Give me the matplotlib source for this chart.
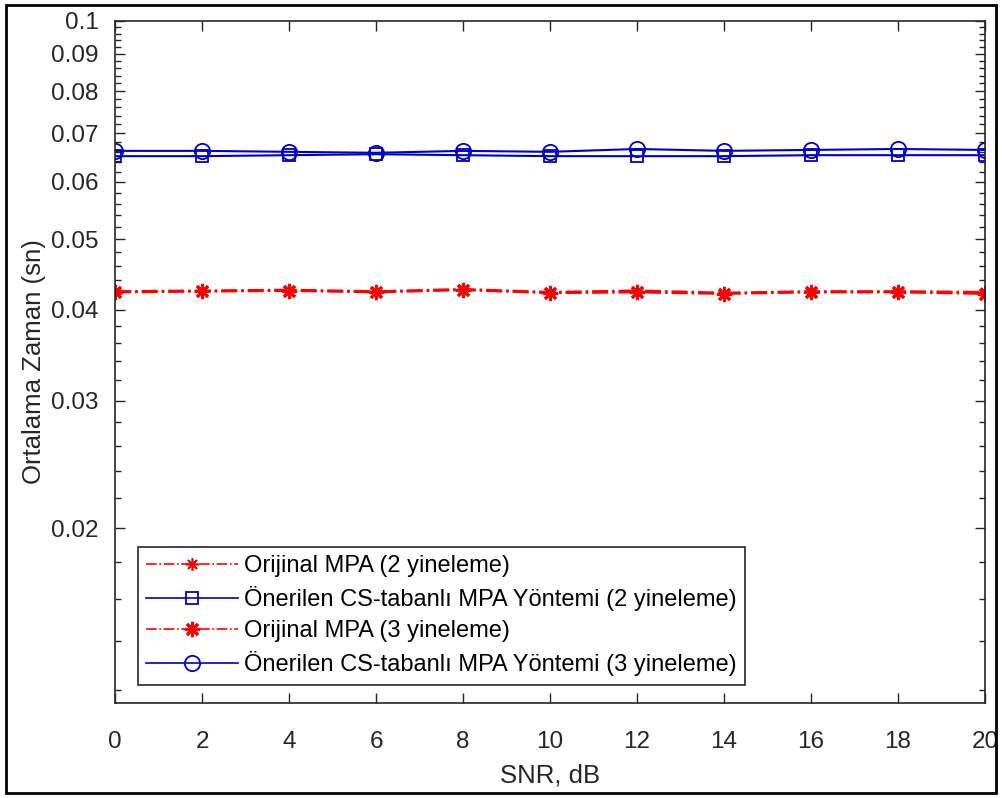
import numpy as np
import matplotlib
matplotlib.use("Agg")
import matplotlib.pyplot as plt
from matplotlib.ticker import FixedLocator, MultipleLocator, NullFormatter
from matplotlib.patches import Rectangle

plt.rcParams['font.family'] = ['Liberation Sans', 'DejaVu Sans']

snr = [0, 2, 4, 6, 8, 10, 12, 14, 16, 18, 20]

# average time (s)
orig_2 = [0.0424, 0.0425, 0.0426, 0.0424, 0.0427, 0.0423, 0.0425, 0.0422, 0.0424, 0.0424, 0.0423]
cs_2 = [0.0651, 0.0651, 0.0653, 0.0655, 0.0653, 0.0651, 0.0651, 0.0651, 0.0653, 0.0653, 0.0653]
orig_3 = [0.0423, 0.0424, 0.0425, 0.0423, 0.0426, 0.0422, 0.0423, 0.0421, 0.0423, 0.0423, 0.0421]
cs_3 = [0.0662, 0.0662, 0.0660, 0.0658, 0.0662, 0.0660, 0.0666, 0.0662, 0.0664, 0.0666, 0.0664]

labels = ['Orijinal MPA (2 yineleme)',
          'Önerilen CS-tabanlı MPA Yöntemi (2 yineleme)',
          'Orijinal MPA (3 yineleme)',
          'Önerilen CS-tabanlı MPA Yöntemi (3 yineleme)']

yticks = [0.02, 0.03, 0.04, 0.05, 0.06, 0.07, 0.08, 0.09, 0.1]
ytick_labels = ['0.02', '0.03', '0.04', '0.05', '0.06', '0.07', '0.08', '0.09', '0.1']

fig = plt.figure(figsize=(10.02, 7.98), dpi=100)
ax = fig.add_axes([0.115, 0.119, 0.868, 0.855])

red = '#ff0000'
blue = '#0000cc'
ax.plot(snr, orig_2, color=red, ls='-.', lw=1.8, marker=(8, 2, 0), ms=9, mew=1.2, label=labels[0])
ax.plot(snr, cs_2, color=blue, ls='-', lw=1.5, marker='s', ms=9, mfc='none', mew=1.3, label=labels[1])
ax.plot(snr, orig_3, color=red, ls='-.', lw=1.8, marker=(8, 2, 0), ms=11, mew=2.0, label=labels[2])
ax.plot(snr, cs_3, color=blue, ls='-', lw=1.5, marker='o', ms=11, mfc='none', mew=1.3, label=labels[3])

ax.set_yscale('log')
ax.set_ylim(0.0115, 0.1)
ax.set_xlim(0, 20)
ax.set_xticks(np.arange(0, 21, 2))
ax.yaxis.set_major_locator(FixedLocator(yticks))
ax.set_yticklabels(ytick_labels)
ax.yaxis.set_minor_locator(MultipleLocator(0.002))
ax.yaxis.set_minor_formatter(NullFormatter())

dark = '#262626'
ax.tick_params(which='both', direction='in', top=True, right=True, colors=dark,
               labelsize=17.5, width=1)
ax.tick_params(which='major', length=7)
ax.tick_params(which='minor', length=4)
ax.tick_params(axis='x', pad=20)
ax.tick_params(axis='y', pad=12)
for s in ax.spines.values():
    s.set_color(dark)
    s.set_linewidth(1.2)

ax.set_xlabel('SNR, dB', fontsize=18.5, color=dark, labelpad=8)
ax.set_ylabel('Ortalama Zaman (sn)', fontsize=18.5, color=dark, labelpad=4)

leg = ax.legend(loc='lower left', bbox_to_anchor=(0.026, 0.027), fontsize=17,
                fancybox=False, edgecolor=dark, framealpha=1, handlelength=3.9,
                handletextpad=0.25, borderpad=0.35, labelspacing=0.38, borderaxespad=0)
leg.get_frame().set_linewidth(1.2)
for line in leg.get_lines():
    line.set_linewidth(1.2)

fig.patches.append(Rectangle((0.006, 0.006), 0.988, 0.988, transform=fig.transFigure,
                             fill=False, edgecolor='black', lw=2))

fig.savefig('out.png', dpi=100)
